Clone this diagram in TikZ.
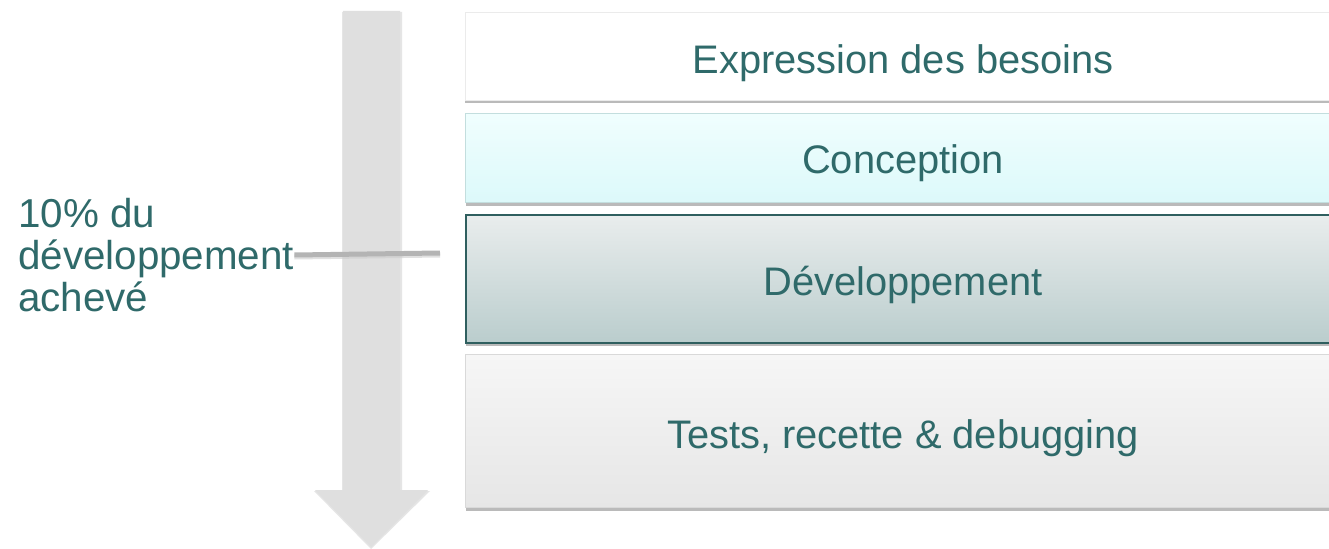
\documentclass[tikz,border=0pt]{standalone}
\usepackage{fontspec}
\setmainfont{Liberation Sans}
\usetikzlibrary{shadows}
\definecolor{tealtxt}{RGB}{47,106,106}
\definecolor{arrowgray}{RGB}{223,223,223}
\definecolor{linegray}{RGB}{180,180,180}
\definecolor{devborder}{RGB}{47,95,95}
\tikzset{
  phase/.style={minimum width=875bp, anchor=north west, inner sep=0pt, text=tealtxt,
    font=\fontsize{40}{48}\selectfont,
    drop shadow={shadow xshift=0pt, shadow yshift=-3bp, opacity=0.45, fill=black!60}},
  phasetext/.style={text=tealtxt, font=\fontsize{40}{48}\selectfont},
}
\begin{document}
\begin{tikzpicture}[x=1bp,y=-1bp]
\useasboundingbox (0,0) rectangle (1329,549);
\fill[white] (0,0) rectangle (1329,549);
% arrow
\fill[black!20, opacity=0.5] (342,12) -- (402,12) -- (402,491) -- (430,491) -- (371,549) -- (314,491) -- (342,491) -- cycle;
\fill[arrowgray] (343,11) -- (400,11) -- (400,490) -- (428,490) -- (371,547) -- (315,490) -- (343,490) -- cycle;
% boxes
\node[phase, fill=white, draw=black!8, minimum height=88bp] (b1) at (465,12) {};
\node[phasetext] at (903,63) {Expression des besoins};
\node[phase, top color={rgb,255:red,240;green,254;blue,254}, bottom color={rgb,255:red,220;green,249;blue,250}, draw={rgb,255:red,195;green,222;blue,222}, line width=1.2bp, minimum height=89bp] (b2) at (465,113) {};
\node[phasetext] at (903,163) {Conception};
\node[phase, top color={rgb,255:red,233;green,237;blue,237}, bottom color={rgb,255:red,186;green,205;blue,205}, draw=devborder, line width=2bp, minimum height=128bp] (b3) at (465,214) {};
\node[phasetext] at (903,285) {Développement};
\node[phase, top color={rgb,255:red,246;green,246;blue,246}, bottom color={rgb,255:red,230;green,230;blue,230}, draw=black!15, line width=1bp, minimum height=153bp] (b4) at (465,354) {};
\node[phasetext] at (903,438) {Tests, recette \& debugging};
% left label
\node[anchor=west, align=left, inner sep=0pt, text=tealtxt, font=\fontsize{40.5}{42}\selectfont] (lbl) at (18,255) {10\% du\\développement\\achevé};
\coordinate (markR) at (440,253);
\draw[black!20, line width=5bp, opacity=0.6] ([yshift=-2bp]lbl.east) -- ([yshift=-2bp]markR);
\draw[linegray, line width=5bp] (lbl.east) -- (markR);
\end{tikzpicture}
\end{document}
